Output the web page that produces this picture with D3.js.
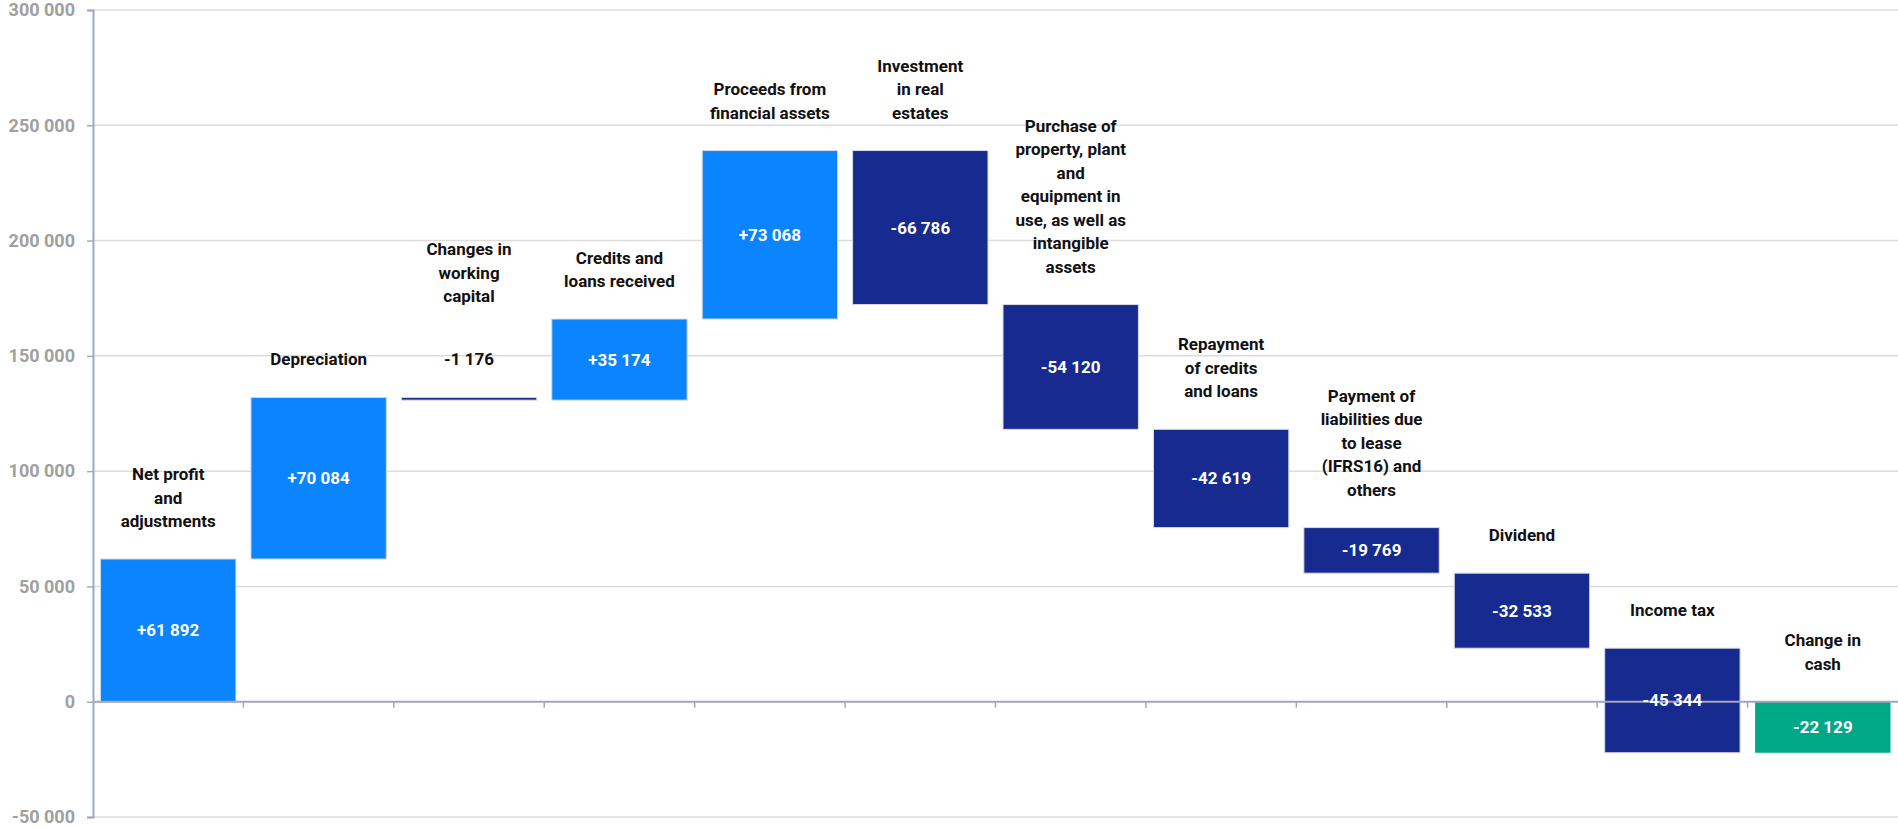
<!DOCTYPE html>
<html>
<head>
<meta charset="utf-8">
<script src="https://cdn.jsdelivr.net/npm/d3@7"></script>
<style>
  body { margin: 0; background: #fff; }
  text { font-family: Roboto, "Open Sans", sans-serif; }
</style>
</head>
<body>
<script>
// waterfall of the cash flow, values in thousands
var categories = [
    "Net profit\nand\nadjustments",
    "Depreciation",
    "Changes in\nworking\ncapital",
    "Credits and\nloans received",
    "Proceeds from\nfinancial assets",
    "Investment\nin real\nestates",
    "Purchase of\nproperty, plant\nand\nequipment in\nuse, as well as\nintangible\nassets",
    "Repayment\nof credits\nand loans",
    "Payment of\nliabilities due\nto lease\n(IFRS16) and\nothers",
    "Dividend",
    "Income tax"
];
var changes = [61892, 70084, -1176, 35174, 73068, -66786, -54120, -42619, -19769, -32533, -45344];

var totalLabel = "Change in\ncash";

var yTicks = [-50000, 0, 50000, 100000, 150000, 200000, 250000, 300000];

var margin = {top: 10, bottom: 11, right: 0, left: 93};
var svgWidth = 1898;
var svgHeight = 828;
var width = svgWidth - margin.left - margin.right;
var height = svgHeight - margin.top - margin.bottom;

var colorUp = "#0a84ff";
var colorDown = "#162a8f";
var colorTotal = "#00a887";
var axisColor = "#a4a6bf";

var locale = d3.formatLocale({decimal: ",", thousands: " ", grouping: [3], currency: ["", ""], minus: "-"});
var fmtValue = locale.format("+,");
var fmtTotal = locale.format(",");
var fmtTick = locale.format(",");

// build the steps
var steps = [];
var running = 0;
changes.forEach(function(v, i) {
    steps.push({label: categories[i], start: running, end: running + v, value: v, text: fmtValue(v), total: false});
    running += v;
});
steps.push({label: totalLabel, start: 0, end: running, value: running, text: fmtTotal(running), total: true});

var svg = d3.select("body")
    .append("svg")
    .attr("width", svgWidth)
    .attr("height", svgHeight)
        .append("g")
            .attr("transform", "translate(" + margin.left + "," + margin.top + ")");

var xScale = d3.scaleBand()
    .domain(d3.range(steps.length))
    .range([0, width])
    .paddingInner(0.1)
    .paddingOuter(0.05);

var yScale = d3.scaleLinear()
    .domain([-50000, 300000])
    .range([height, 0]);

// grid lines
svg.append("g")
    .selectAll("line")
    .data(yTicks)
    .enter()
    .append("line")
        .attr("x1", 0)
        .attr("x2", width)
        .attr("y1", function(d) { return yScale(d); })
        .attr("y2", function(d) { return yScale(d); })
        .attr("stroke", "#dcdcdf")
        .attr("stroke-width", 1.5);

// y axis
var yAxis = d3.axisLeft(yScale)
    .tickValues(yTicks)
    .tickFormat(fmtTick)
    .tickSize(6)
    .tickPadding(12);

var yG = svg.append("g").call(yAxis);
yG.select(".domain").attr("stroke", axisColor).attr("stroke-width", 2);
yG.selectAll(".tick line").attr("stroke", axisColor).attr("stroke-width", 1.5);
yG.selectAll(".tick text")
    .attr("fill", "#a0a0a0")
    .style("font-size", "18px")
    .style("font-weight", "700")
    .style("font-family", "Roboto, sans-serif");

// bars
var bars = svg.append("g")
    .selectAll("rect")
    .data(steps)
    .enter()
    .append("rect")
        .attr("x", function(d, i) { return xScale(i); })
        .attr("width", xScale.bandwidth())
        .attr("y", function(d) { return yScale(Math.max(d.start, d.end)); })
        .attr("height", function(d) {
            return Math.max(2, Math.abs(yScale(d.start) - yScale(d.end)));
        })
        .attr("fill", function(d) {
            if (d.total) return colorTotal;
            return d.value >= 0 ? colorUp : colorDown;
        })
        .attr("stroke", function(d) { return d.total ? "none" : "#d8d9e2"; })
        .attr("stroke-width", 1);

// x axis on the zero line, ticks between the categories
var boundaries = d3.range(steps.length + 1).map(function(k) {
    return k * xScale.step() - xScale.step() * xScale.paddingInner() / 2 + xScale.step() * xScale.paddingOuter() + (k === 0 ? 0 : 0);
});
var xAxisG = svg.append("g")
    .attr("transform", "translate(0," + yScale(0) + ")");
xAxisG.append("line")
    .attr("x1", 0)
    .attr("x2", width)
    .attr("stroke", axisColor)
    .attr("stroke-width", 2);
xAxisG.selectAll(".xtick")
    .data(d3.range(1, steps.length))
    .enter()
    .append("line")
        .attr("class", "xtick")
        .attr("x1", function(k) { return xScale(k) - xScale.step() * xScale.paddingInner() / 2; })
        .attr("x2", function(k) { return xScale(k) - xScale.step() * xScale.paddingInner() / 2; })
        .attr("y1", 0)
        .attr("y2", 6)
        .attr("stroke", axisColor)
        .attr("stroke-width", 1.5);

// labels
var labelGap = 38;
var lineHeight = 23.5;
var labels = svg.append("g");

steps.forEach(function(d, i) {
    var cx = xScale(i) + xScale.bandwidth() / 2;
    var top = yScale(Math.max(d.start, d.end));
    var bottom = yScale(Math.min(d.start, d.end));
    var barH = bottom - top;
    var anchorY = top;

    if (barH > 26) {
        labels.append("text")
            .attr("x", cx)
            .attr("y", (top + bottom) / 2 + 6)
            .attr("text-anchor", "middle")
            .attr("fill", "#fff")
            .style("font-size", "17px")
            .style("font-weight", "700")
            .text(d.text);
    } else {
        // thin bar: value sits above the bar in black
        labels.append("text")
            .attr("x", cx)
            .attr("y", top - labelGap + 6)
            .attr("text-anchor", "middle")
            .attr("fill", "#111")
            .style("font-size", "17px")
            .style("font-weight", "700")
            .text(d.text);
        anchorY = top - labelGap - 25;
    }

    var lines = d.label.split("\n");
    var lastCenter = anchorY - labelGap;
    var t = labels.append("text")
        .attr("text-anchor", "middle")
        .attr("fill", "#111")
        .style("font-size", "17px")
        .style("font-weight", "700");
    lines.forEach(function(line, j) {
        t.append("tspan")
            .attr("x", cx)
            .attr("y", lastCenter - (lines.length - 1 - j) * lineHeight + 6)
            .text(line);
    });
});
</script>
</body>
</html>
